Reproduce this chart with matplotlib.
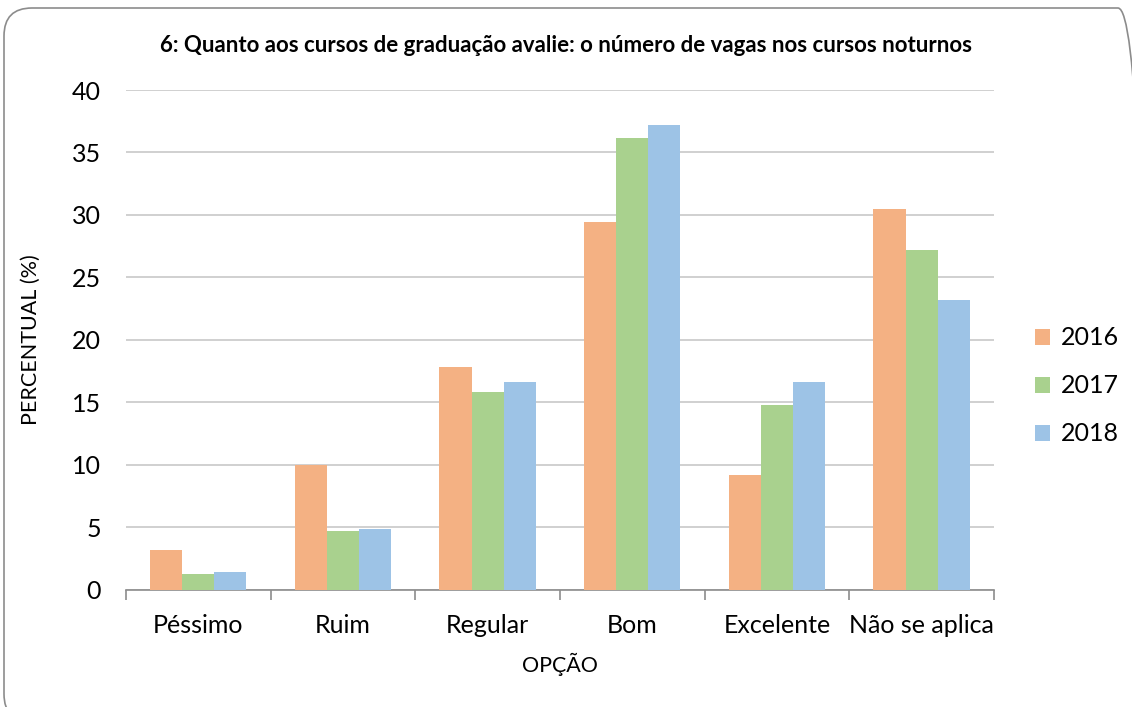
import numpy as np
import matplotlib.pyplot as plt
from matplotlib.patches import FancyBboxPatch

plt.rcParams['font.family'] = ['Lato', 'DejaVu Sans']

opcoes = ['Péssimo', 'Ruim', 'Regular', 'Bom', 'Excelente', 'Não se aplica']
anos = ['2016', '2017', '2018']
v2016 = [3.2, 10.0, 17.8, 29.4, 9.2, 30.5]
v2017 = [1.25, 4.7, 15.8, 36.2, 14.8, 27.2]
v2018 = [1.47, 4.9, 16.6, 37.2, 16.6, 23.2]
cores = ['#F4B183', '#A9D18E', '#9DC3E6']

fig = plt.figure(figsize=(11.32, 7.07), dpi=100)
ax = fig.add_axes([0.1113, 0.1655, 0.7667, 0.7072])

# moldura arredondada (em polegadas; sai um pouco da imagem a direita e embaixo)
moldura = FancyBboxPatch((0.04, -0.15), 11.42, 7.14,
                         boxstyle='round,pad=0,rounding_size=0.28',
                         transform=fig.dpi_scale_trans, facecolor='none', edgecolor='#8c8c8c', lw=1.2)
fig.patches.append(moldura)

x = np.arange(len(opcoes))
w = 0.222
for i, (vals, ano) in enumerate(zip([v2016, v2017, v2018], anos)):
    ax.bar(x + (i - 1) * w, vals, w, color=cores[i], label=ano, zorder=3)

ax.set_xlim(-0.5, len(opcoes) - 0.5)
ax.set_ylim(0, 40)
ax.set_yticks(range(0, 41, 5))
ax.yaxis.grid(True, color='#c8c8c8', lw=1.2, zorder=0)
ax.set_xticks(x)
ax.set_xticklabels(opcoes, fontsize=18)
ax.tick_params(axis='x', length=0, pad=17)
ax.set_xticks(np.arange(-0.5, len(opcoes)), minor=True)
ax.tick_params(axis='x', which='minor', length=7, color='#8c8c8c', width=1.2)
ax.tick_params(axis='y', length=0, labelsize=18, pad=18)

for s in ['top', 'right', 'left']:
    ax.spines[s].set_visible(False)
ax.spines['bottom'].set_color('#8c8c8c')
ax.spines['bottom'].set_linewidth(1.2)

ax.set_xlabel('OPÇÃO', fontsize=15.5, labelpad=12)
ax.set_ylabel('PERCENTUAL (%)', fontsize=15.5, labelpad=22)
fig.text(0.5, 0.936, '6: Quanto aos cursos de graduação avalie: o número de vagas nos cursos noturnos',
         ha='center', va='center', fontsize=16, fontweight='bold')

ax.legend(loc='center left', bbox_to_anchor=(1.022, 0.408), frameon=False, fontsize=18,
          handlelength=0.6, handleheight=0.6, labelspacing=1.0, handletextpad=0.4)

fig.savefig('out.png', dpi=100)
